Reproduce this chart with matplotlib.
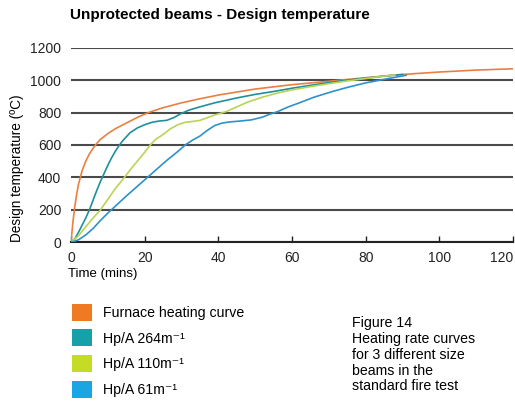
import matplotlib
matplotlib.use("Agg")
import matplotlib.pyplot as plt
from matplotlib.patches import Patch

plt.rcParams["font.family"] = ["Liberation Sans", "DejaVu Sans"]

# time (mins) / temperature (degC)
furnace_t = [0, 0.5, 1, 1.5, 2, 3, 4, 5, 6, 7, 8, 10, 12, 15, 18, 21, 25, 30, 35, 40,
             50, 60, 70, 80, 90, 100, 110, 120]
furnace_T = [0, 120, 215, 290, 355, 440, 500, 545, 580, 610, 635, 670, 700, 735, 770, 800,
             830, 860, 885, 908, 945, 972, 993, 1015, 1035, 1050, 1062, 1070]

hp264_t = [0, 1, 2, 3, 4, 5, 6, 7, 8, 9, 10, 11, 12, 13, 14, 15, 16, 18, 20, 22, 24, 26,
           28, 30, 32, 35, 39, 45, 50, 55, 60, 65, 70, 75, 80, 85, 90]
hp264_T = [0, 20, 60, 105, 150, 200, 260, 320, 375, 425, 475, 520, 560, 595, 625, 650, 675,
           705, 725, 740, 748, 752, 770, 795, 815, 835, 860, 890, 912, 930, 950, 968, 985,
           1000, 1012, 1025, 1035]

hp110_t = [0, 2, 4, 6, 8, 10, 12, 14.5, 16, 18, 20, 21.5, 23, 25, 27, 29, 31, 33, 35, 37,
           39, 42, 45, 48, 52, 56, 60, 65, 70, 75, 80, 85, 88]
hp110_T = [0, 40, 95, 150, 200, 265, 330, 400, 445, 500, 555, 600, 635, 665, 700, 725, 740,
           745, 752, 768, 785, 805, 835, 865, 895, 920, 940, 960, 978, 995, 1010, 1025, 1032]

hp61_t = [0, 2, 4, 6, 8, 10, 12, 15, 18, 20, 23, 26, 29, 31, 33, 35, 37, 39, 41, 43, 46,
          49, 52, 54, 56, 59, 62, 66, 71, 75, 80, 85, 91]
hp61_T = [0, 15, 45, 85, 135, 180, 222, 285, 345, 385, 445, 505, 560, 600, 630, 655, 690,
          720, 735, 742, 748, 755, 772, 790, 805, 835, 860, 895, 930, 955, 983, 1005, 1030]

labels = ["Furnace heating curve", "Hp/A 264m\u207b\u00b9", "Hp/A 110m\u207b\u00b9",
          "Hp/A 61m\u207b\u00b9"]
line_colors = ["#ea8040", "#1f8f9c", "#b9d455", "#2e92c8"]
swatch_colors = ["#f07a22", "#16a0a8", "#c4dc26", "#1aa6e2"]

fig = plt.figure(figsize=(5.15, 4.05), dpi=100)
ax = fig.add_axes([71 / 515, 1 - 242.3 / 405, 442 / 515, 194.6 / 405])

series = [(furnace_t, furnace_T), (hp264_t, hp264_T), (hp110_t, hp110_T), (hp61_t, hp61_T)]
for (t, T), c in zip(series, line_colors):
    ax.plot(t, T, color=c, lw=1.2, zorder=3)

ax.set_xlim(0, 120)
ax.set_ylim(0, 1200)
ax.set_xticks(range(0, 121, 20))
ax.set_yticks(range(0, 1201, 200))
ax.grid(axis="y", color="#4a4a4a", lw=1.5)
ax.set_axisbelow(True)
for s in ["top", "right", "left"]:
    ax.spines[s].set_visible(False)
ax.spines["bottom"].set_color("#222222")
ax.spines["bottom"].set_linewidth(1.5)
ax.tick_params(axis="x", direction="in", length=4, width=1, pad=6, labelsize=10, colors="#222222")
ax.tick_params(axis="y", length=0, pad=7, labelsize=10, colors="#222222")
ax.get_xticklabels()[-1].set_ha("right")

fig.text(70 / 515, 1 - 15 / 405, "Unprotected beams - Design temperature",
         fontsize=11, fontweight="bold", va="center", ha="left")
fig.text(17 / 515, 1 - 168 / 405, "Design temperature (\u00baC)", rotation=90,
         fontsize=9.8, va="center", ha="center")
fig.text(68 / 515, 1 - 274 / 405, "Time (mins)", fontsize=9.5, va="center", ha="left")

handles = [Patch(facecolor=c, edgecolor="none") for c in swatch_colors]
fig.legend(handles, labels, loc="upper left", bbox_to_anchor=(59 / 515, 1 - 291 / 405),
           frameon=False, fontsize=10.2, handlelength=1.4, handleheight=1.45,
           handletextpad=0.8, labelspacing=0.63)

fig.text(352 / 515, 1 - 316 / 405,
         "Figure 14\nHeating rate curves\nfor 3 different size\nbeams in the\nstandard fire test",
         fontsize=10.2, va="top", ha="left", linespacing=1.17)

fig.savefig("out.png", dpi=100)
